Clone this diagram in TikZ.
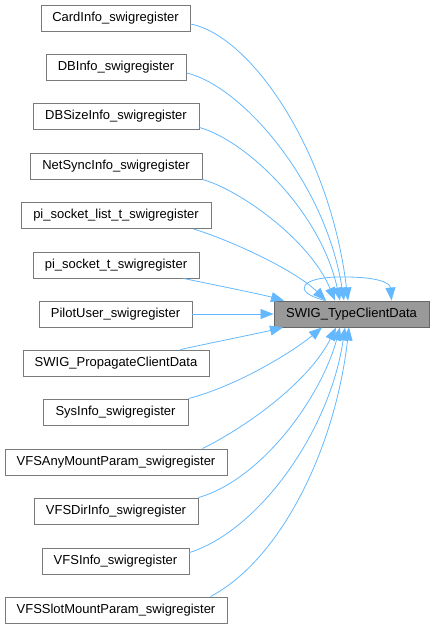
\documentclass[tikz,border=0pt]{standalone}
\usepackage{fontspec}
\setmainfont{Liberation Sans}
\usetikzlibrary{arrows.meta}
\definecolor{edgeblue}{HTML}{63B8FF}
\definecolor{boxline}{HTML}{7A7A7A}
\definecolor{tgtline}{HTML}{666666}
\definecolor{tgtfill}{HTML}{999999}
\tikzset{
  fn/.style={draw=boxline, fill=white, line width=0.9pt, minimum height=26pt, inner sep=0pt,
    font=\fontsize{13}{15}\selectfont},
  tgtbox/.style={fn, draw=tgtline, fill=tgtfill},
  callarrow/.style={draw=edgeblue, line width=0.8pt, -{Triangle[length=13pt,width=10pt]}},
}
\begin{document}
\begin{tikzpicture}[x=1pt, y=-1pt]
\useasboundingbox (0,0) rectangle (434,628);
% caller nodes
\node[fn, minimum width=149pt] (card) at (115.5,18) {CardInfo\_swigregister};
\node[fn, minimum width=140pt] (dbinfo) at (116,67) {DBInfo\_swigregister};
\node[fn, minimum width=166pt] (dbsize) at (116,116.5) {DBSizeInfo\_swigregister};
\node[fn, minimum width=172pt] (netsync) at (116,166) {NetSyncInfo\_swigregister};
\node[fn, minimum width=190pt] (pslist) at (116,215.5) {pi\_socket\_list\_t\_swigregister};
\node[fn, minimum width=166pt] (psock) at (116,265) {pi\_socket\_t\_swigregister};
\node[fn, minimum width=153pt] (pilot) at (115.5,314) {PilotUser\_swigregister};
\node[fn, minimum width=186pt] (prop) at (116,363) {SWIG\_PropagateClientData};
\node[fn, minimum width=145pt] (sysinfo) at (115.5,412) {SysInfo\_swigregister};
\node[fn, minimum width=222pt] (vfsany) at (116,462) {VFSAnyMountParam\_swigregister};
\node[fn, minimum width=164pt] (vfsdir) at (116,511) {VFSDirInfo\_swigregister};
\node[fn, minimum width=147pt] (vfsinfo) at (115.5,561) {VFSInfo\_swigregister};
\node[fn, minimum width=222pt] (vfsslot) at (116,610) {VFSSlotMountParam\_swigregister};
% target
\node[tgtbox, minimum width=155pt] (tgt) at (351.5,314) {SWIG\_TypeClientData};
% edges
\draw[callarrow] ([yshift=-6pt]card.east) .. controls (250,35) and (330,150) .. ([xshift=-3.5pt]tgt.north);
\draw[callarrow] ([yshift=-6pt]dbinfo.east) .. controls (240,85) and (325,180) .. ([xshift=-7.5pt]tgt.north);
\draw[callarrow] ([yshift=-11pt]dbsize.east) .. controls (245,140) and (320,210) .. ([xshift=-11.5pt]tgt.north);
\draw[callarrow] (netsync.south east) .. controls (240,190) and (310,240) .. ([xshift=-16.5pt]tgt.north);
\draw[callarrow] ([xshift=-18pt]pslist.south east) .. controls (230,240) and (295,270) .. ([xshift=-25.5pt]tgt.north);
\draw[callarrow] ([xshift=-16pt]psock.south east) .. controls (210,284) and (260,294) .. ([xshift=-67.5pt]tgt.north);
\draw[callarrow] (pilot.east) -- (tgt.west);
\draw[callarrow] ([xshift=-29pt]prop.north east) .. controls (210,343) and (260,333) .. ([xshift=-68.5pt]tgt.south);
\draw[callarrow] (sysinfo.north east) .. controls (240,385) and (295,350) .. ([xshift=-29.5pt]tgt.south);
\draw[callarrow] ([xshift=-25pt]vfsany.north east) .. controls (250,425) and (310,380) .. ([xshift=-15.5pt]tgt.south);
\draw[callarrow] (vfsdir.north east) .. controls (260,480) and (320,400) .. ([xshift=-11.5pt]tgt.south);
\draw[callarrow] ([yshift=-5pt]vfsinfo.north east) .. controls (260,530) and (330,430) .. ([xshift=-6.5pt]tgt.south);
\draw[callarrow] ([xshift=-17pt]vfsslot.north east) .. controls (280,560) and (335,450) .. ([xshift=-2.5pt]tgt.south);
% self loop
\draw[callarrow] ([xshift=-26pt]tgt.north) .. controls (290,292) and (300,276) .. (345,277) .. controls (375,277) and (390,282) .. ([xshift=40pt]tgt.north);
\end{tikzpicture}
\end{document}
